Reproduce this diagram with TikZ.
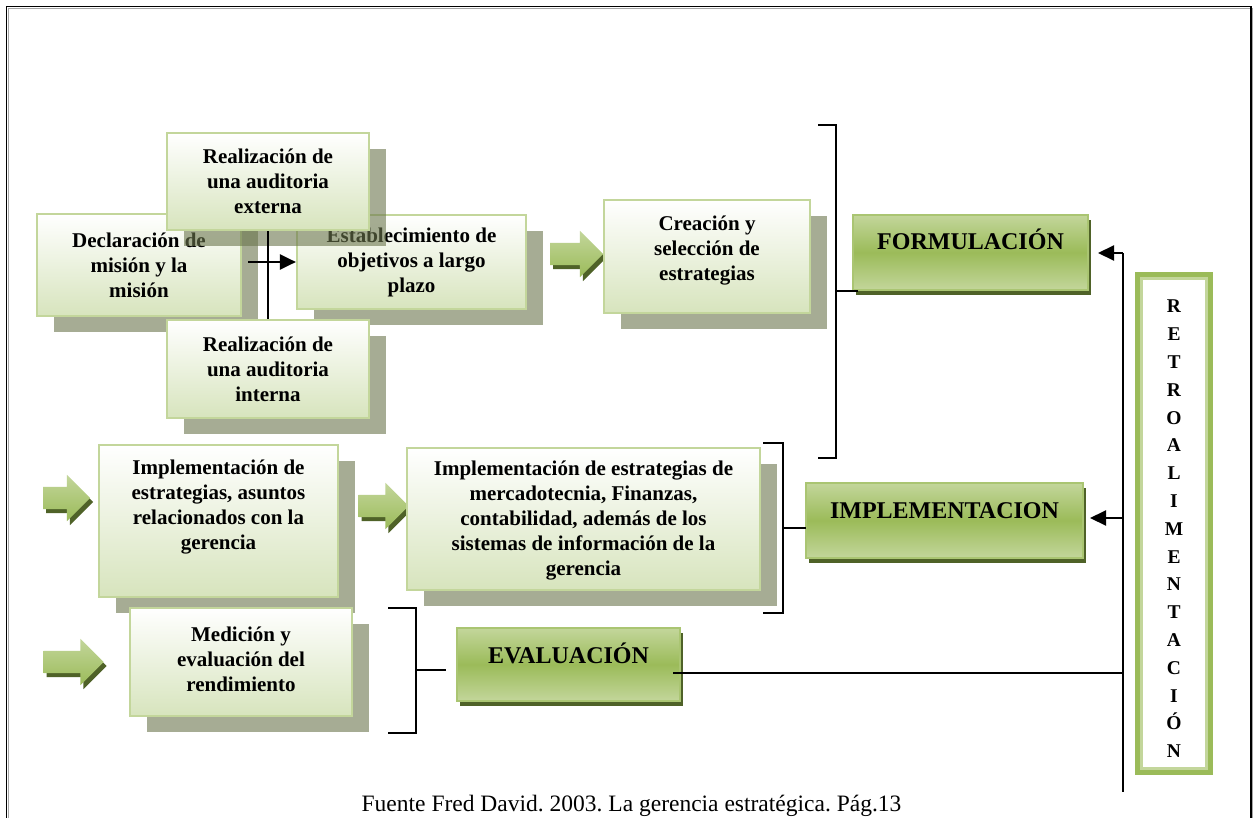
\documentclass[tikz,border=0pt]{standalone}
\usepackage{fontspec}
\setmainfont{Liberation Serif}
\usetikzlibrary{arrows.meta,shadows,shapes.arrows}
\frenchspacing

\definecolor{lgborder}{HTML}{C3D69B}
\definecolor{lgbottom}{HTML}{D7E4BD}
\definecolor{boxshadow}{HTML}{6B764D}
\definecolor{olive}{HTML}{9BBB59}
\definecolor{olivelight}{HTML}{C3D69B}
\definecolor{olivedark}{HTML}{4F6228}

\begin{document}
\begin{tikzpicture}[x=1pt,y=-1pt,
  lbox/.style={draw=lgborder, line width=2.2pt, top color=white, bottom color=lgbottom, inner sep=0pt,
    drop shadow={shadow xshift=17pt, shadow yshift=-16pt, fill=boxshadow, opacity=0.6}},
  hbox/.style={draw=olive!85!white, line width=2pt, top color=olivelight, bottom color=olivelight,
    middle color=olive, inner sep=0pt,
    drop shadow={shadow xshift=3pt, shadow yshift=-5pt, fill=olivedark, opacity=1}},
  btext/.style={font=\fontsize{21}{25}\selectfont\bfseries, align=center, inner sep=0pt},
  htext/.style={font=\fontsize{24}{28}\selectfont\bfseries, inner sep=0pt, anchor=base},
  fat/.style={single arrow, single arrow head extend=12pt, inner sep=11pt, draw=none,
    top color=olivelight, bottom color=olive,
    drop shadow={shadow xshift=3pt, shadow yshift=-4pt, fill=olivedark, opacity=1}},
  rule/.style={line width=2pt, black},
  arr/.style={line width=2.2pt, -{Triangle[length=16pt,width=15pt]}},
]
\useasboundingbox (0,0) rectangle (1257,818);
\fill[white] (0,0) rectangle (1257,818);
\clip (0,0) rectangle (1257,818);

% page frame
\draw[gray!70, line width=1.2pt] (8.5,830) -- (8.5,8.5) -- (1252.5,8.5) -- (1252.5,830);
\draw[black, line width=1.8pt] (6.5,830) -- (6.5,6.5) -- (1251,6.5) -- (1251,830);

% formulation stage
\node[lbox, minimum width=204pt, minimum height=102pt] (decl) at (139,265) {};
\node[btext] (decl-t) at (decl.center) {Declaración de\\misión y la\\misión};
\node[lbox, minimum width=229pt, minimum height=94pt] (estab) at (411.5,262) {};
\node[btext] (estab-t) at (estab.center) {Establecimiento de\\objetivos a largo\\plazo};
\node[lbox, minimum width=202pt, minimum height=97pt] (ext) at (268,181.5) {};
\node[btext] (ext-t) at (ext.center) {Realización de\\una auditoria\\externa};
\node[lbox, minimum width=202pt, minimum height=98pt] (int) at (268,369) {};
\node[btext] (int-t) at (int.center) {Realización de\\una auditoria\\interna};

\draw[rule] (ext.south) -- (int.north);
\coordinate (decl-out) at ([xshift=6pt]decl.east);
\draw[arr] (decl-out |- estab.west) -- (estab.west);

\node[fat, minimum height=53pt] (fa1) at (571,254) {};
\node[lbox, minimum width=206pt, minimum height=113pt] (crea) at (707,256.5) {};
\node[btext] (crea-t) at (707,251) {Creación y\\selección de\\estrategias};

\node[hbox, minimum width=235pt, minimum height=75pt] (form) at (970.5,252.5) {};
\node[htext] (form-t) at (970.5,250) {FORMULACIÓN};

% implementation stage
\node[fat, minimum height=47pt] (fa2) at (61,498) {};
\node[lbox, minimum width=239pt, minimum height=152pt] (impl1) at (218.5,521) {};
\node[btext] (impl1-t) at (218.5,507) {Implementación de\\estrategias, asuntos\\relacionados con la\\gerencia};
\node[fat, minimum height=50pt] (fa3) at (378,506) {};
\node[lbox, minimum width=353pt, minimum height=142pt] (impl2) at (583.5,519) {};
\node[btext] (impl2-t) at (583.5,521) {Implementación de estrategias de\\mercadotecnia, Finanzas,\\contabilidad, además de los\\sistemas de información de la\\gerencia};
\node[hbox, minimum width=277pt, minimum height=75pt] (implh) at (944.5,520.5) {};
\node[htext] (implh-t) at (944.5,518) {IMPLEMENTACION};

% evaluation stage
\node[fat, minimum height=60pt] (fa4) at (68,662) {};
\node[lbox, minimum width=222pt, minimum height=108pt] (med) at (241,662) {};
\node[btext] (med-t) at (241,659) {Medición y\\evaluación del\\rendimiento};
\node[hbox, minimum width=223pt, minimum height=73pt] (eval) at (568.5,664.5) {};
\node[htext] (eval-t) at (568.5,663) {EVALUACIÓN};

% brackets grouping each stage
\draw[rule] (818,125) -- (836,125) -- (836,458) -- (818,458);
\draw[rule] (836,291) -- (858,291);
\draw[rule] (763,443) -- (783,443) -- (783,613) -- (763,613);
\draw[rule] (783,528) -- (806,528);
\draw[rule] (388,608) -- (416,608) -- (416,733) -- (388,733);
\draw[rule] (416,670) -- (446,670);

% feedback loop
\node[draw=olive, line width=8pt, minimum width=70pt, minimum height=495pt, inner sep=0pt] (retro) at (1174,523.5) {};
\draw[olivelight, line width=2.5pt] ([shift={(6.5pt,-6.5pt)}]retro.north west) rectangle ([shift={(-6.5pt,6.5pt)}]retro.south east);
\begin{scope}
  \clip ([shift={(8pt,-8pt)}]retro.north west) rectangle ([shift={(-8pt,8pt)}]retro.south east);
  \node[font=\fontsize{19.5}{27.8}\selectfont\bfseries, align=center, anchor=north, inner sep=0pt] (retro-t) at (1174,300)
    {R\\E\\T\\R\\O\\A\\L\\I\\M\\E\\N\\T\\A\\C\\I\\Ó\\N};
\end{scope}

\coordinate (fb-top) at (1123,253);
\coordinate (fb-imp) at (1123,518);
\coordinate (fb-eval) at (1123,673);
\coordinate (fb-bot) at (1123,792);
\coordinate (form-in) at ([xshift=9pt]form.east);
\coordinate (implh-in) at ([xshift=6pt]implh.east);
\coordinate (eval-out) at ([xshift=-8pt]eval.east);
\draw[rule] (fb-top) -- (fb-bot);
\draw[arr] (fb-top) -- (form-in |- fb-top);
\draw[arr] (fb-imp) -- (implh-in |- fb-imp);
\draw[rule] (eval-out |- fb-eval) -- (fb-eval);

% source line
\node[font=\fontsize{23.5}{28}\selectfont, anchor=base, inner sep=0pt] (src) at (631.5,811)
  {Fuente Fred David. 2003. La gerencia estratégica. Pág.13};
\end{tikzpicture}
\end{document}
